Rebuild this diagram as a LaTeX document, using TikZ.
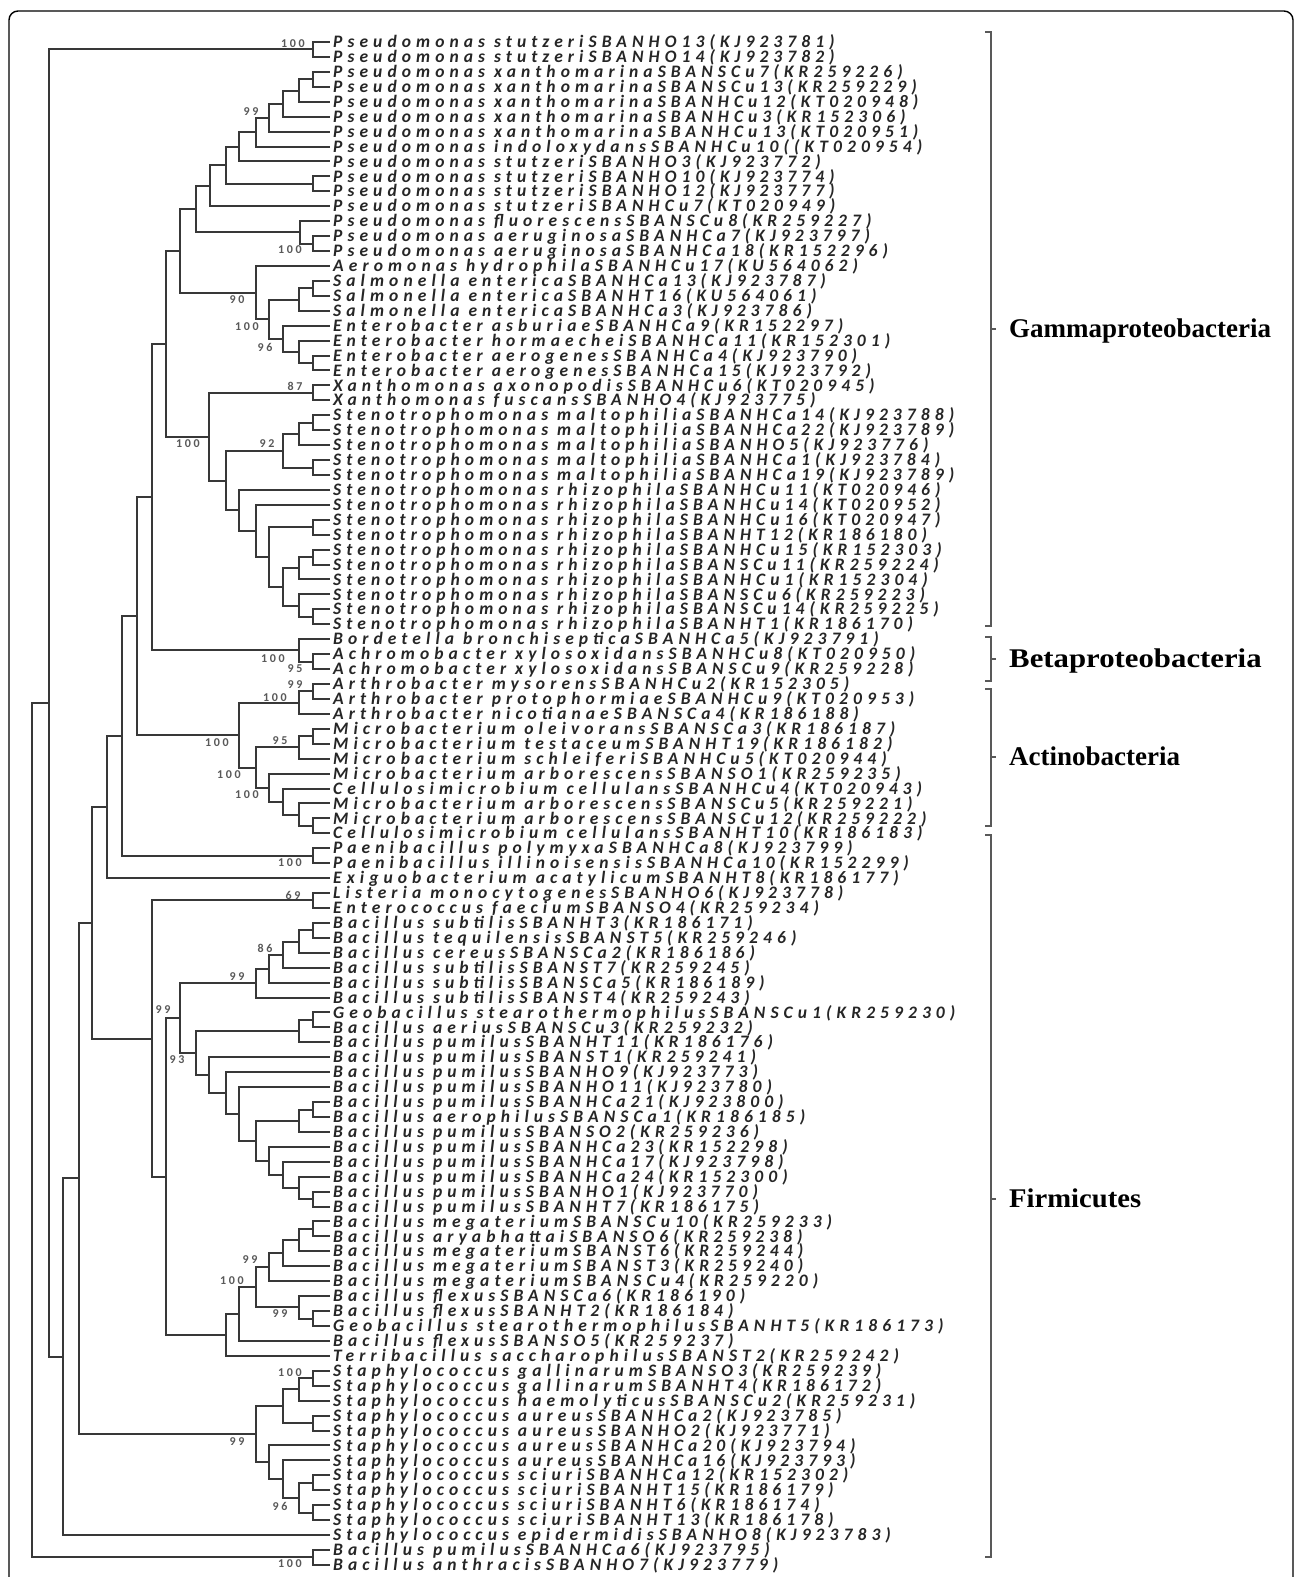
\documentclass[tikz,border=0pt]{standalone}
\usepackage{fontspec}
\usetikzlibrary{calc}
\newfontfamily\leaffont[LetterSpace=29]{Carlito}
\newfontfamily\bsfont[LetterSpace=22]{Carlito}
\newfontfamily\grpfont{Liberation Serif}
\newcommand\cl[4]{%
  \path let \p1=(#3), \p2=(#4) in coordinate (#1) at (#2pt,{0.5*\y1+0.5*\y2});
  \draw[br] (#1) |- (#3);
  \draw[br] (#1) |- (#4);}
\tikzset{
  leaf/.style={anchor=west, inner xsep=3pt, inner ysep=0pt, text height=11.3pt, text depth=0pt,
    font=\leaffont\bfseries\itshape\fontsize{17.5}{17.5}\selectfont, text=black!85},
  br/.style={draw=black!78, line width=2pt},
  bs/.style={inner sep=0pt, font=\bsfont\bfseries\fontsize{12}{12}\selectfont, text=black!65},
  grp/.style={anchor=west, inner sep=0pt, text height=17.9pt, text depth=0pt,
    font=\grpfont\bfseries\fontsize{27}{27}\selectfont},
  brk/.style={draw=black!65, line width=2.4pt},
  frame/.style={draw=black, line width=1.4pt, rounded corners=9pt}
}
\begin{document}
\begin{tikzpicture}[x=1pt,y=-1pt]
\useasboundingbox (0,0) rectangle (1295,1577);
\clip (0,0) rectangle (1295,1577);
\fill[white] (0,0) rectangle (1295,1577);
\draw[frame] (9,11) rectangle (1293,1610);
% leaves
\foreach \t [count=\i] in {
Pseudomonas stutzeriSBANHO13(KJ923781),
Pseudomonas stutzeriSBANHO14(KJ923782),
Pseudomonas xanthomarinaSBANSCu7(KR259226),
Pseudomonas xanthomarinaSBANSCu13(KR259229),
Pseudomonas xanthomarinaSBANHCu12(KT020948),
Pseudomonas xanthomarinaSBANHCu3(KR152306),
Pseudomonas xanthomarinaSBANHCu13(KT020951),
Pseudomonas indoloxydansSBANHCu10((KT020954),
Pseudomonas stutzeriSBANHO3(KJ923772),
Pseudomonas stutzeriSBANHO10(KJ923774),
Pseudomonas stutzeriSBANHO12(KJ923777),
Pseudomonas stutzeriSBANHCu7(KT020949),
Pseudomonas fluorescensSBANSCu8(KR259227),
Pseudomonas aeruginosaSBANHCa7(KJ923797),
Pseudomonas aeruginosaSBANHCa18(KR152296),
Aeromonas hydrophilaSBANHCu17(KU564062),
Salmonella entericaSBANHCa13(KJ923787),
Salmonella entericaSBANHT16(KU564061),
Salmonella entericaSBANHCa3(KJ923786),
Enterobacter asburiaeSBANHCa9(KR152297),
Enterobacter hormaecheiSBANHCa11(KR152301),
Enterobacter aerogenesSBANHCa4(KJ923790),
Enterobacter aerogenesSBANHCa15(KJ923792),
Xanthomonas axonopodisSBANHCu6(KT020945),
Xanthomonas fuscansSBANHO4(KJ923775),
Stenotrophomonas maltophiliaSBANHCa14(KJ923788),
Stenotrophomonas maltophiliaSBANHCa22(KJ923789),
Stenotrophomonas maltophiliaSBANHO5(KJ923776),
Stenotrophomonas maltophiliaSBANHCa1(KJ923784),
Stenotrophomonas maltophiliaSBANHCa19(KJ923789),
Stenotrophomonas rhizophilaSBANHCu11(KT020946),
Stenotrophomonas rhizophilaSBANHCu14(KT020952),
Stenotrophomonas rhizophilaSBANHCu16(KT020947),
Stenotrophomonas rhizophilaSBANHT12(KR186180),
Stenotrophomonas rhizophilaSBANHCu15(KR152303),
Stenotrophomonas rhizophilaSBANSCu11(KR259224),
Stenotrophomonas rhizophilaSBANHCu1(KR152304),
Stenotrophomonas rhizophilaSBANSCu6(KR259223),
Stenotrophomonas rhizophilaSBANSCu14(KR259225),
Stenotrophomonas rhizophilaSBANHT1(KR186170),
Bordetella bronchisepticaSBANHCa5(KJ923791),
Achromobacter xylosoxidansSBANHCu8(KT020950),
Achromobacter xylosoxidansSBANSCu9(KR259228),
Arthrobacter mysorensSBANHCu2(KR152305),
Arthrobacter protophormiaeSBANHCu9(KT020953),
Arthrobacter nicotianaeSBANSCa4(KR186188),
Microbacterium oleivoransSBANSCa3(KR186187),
Microbacterium testaceumSBANHT19(KR186182),
Microbacterium schleiferiSBANHCu5(KT020944),
Microbacterium arborescensSBANSO1(KR259235),
Cellulosimicrobium cellulansSBANHCu4(KT020943),
Microbacterium arborescensSBANSCu5(KR259221),
Microbacterium arborescensSBANSCu12(KR259222),
Cellulosimicrobium cellulansSBANHT10(KR186183),
Paenibacillus polymyxaSBANHCa8(KJ923799),
Paenibacillus illinoisensisSBANHCa10(KR152299),
Exiguobacterium acatylicumSBANHT8(KR186177),
Listeria monocytogenesSBANHO6(KJ923778),
Enterococcus faeciumSBANSO4(KR259234),
Bacillus subtilisSBANHT3(KR186171),
Bacillus tequilensisSBANST5(KR259246),
Bacillus cereusSBANSCa2(KR186186),
Bacillus subtilisSBANST7(KR259245),
Bacillus subtilisSBANSCa5(KR186189),
Bacillus subtilisSBANST4(KR259243),
Geobacillus stearothermophilusSBANSCu1(KR259230),
Bacillus aeriusSBANSCu3(KR259232),
Bacillus pumilusSBANHT11(KR186176),
Bacillus pumilusSBANST1(KR259241),
Bacillus pumilusSBANHO9(KJ923773),
Bacillus pumilusSBANHO11(KJ923780),
Bacillus pumilusSBANHCa21(KJ923800),
Bacillus aerophilusSBANSCa1(KR186185),
Bacillus pumilusSBANSO2(KR259236),
Bacillus pumilusSBANHCa23(KR152298),
Bacillus pumilusSBANHCa17(KJ923798),
Bacillus pumilusSBANHCa24(KR152300),
Bacillus pumilusSBANHO1(KJ923770),
Bacillus pumilusSBANHT7(KR186175),
Bacillus megateriumSBANSCu10(KR259233),
Bacillus aryabhattaiSBANSO6(KR259238),
Bacillus megateriumSBANST6(KR259244),
Bacillus megateriumSBANST3(KR259240),
Bacillus megateriumSBANSCu4(KR259220),
Bacillus flexusSBANSCa6(KR186190),
Bacillus flexusSBANHT2(KR186184),
Geobacillus stearothermophilusSBANHT5(KR186173),
Bacillus flexusSBANSO5(KR259237),
Terribacillus saccharophilusSBANST2(KR259242),
Staphylococcus gallinarumSBANSO3(KR259239),
Staphylococcus gallinarumSBANHT4(KR186172),
Staphylococcus haemolyticusSBANSCu2(KR259231),
Staphylococcus aureusSBANHCa2(KJ923785),
Staphylococcus aureusSBANHO2(KJ923771),
Staphylococcus aureusSBANHCa20(KJ923794),
Staphylococcus aureusSBANHCa16(KJ923793),
Staphylococcus sciuriSBANHCa12(KR152302),
Staphylococcus sciuriSBANHT15(KR186179),
Staphylococcus sciuriSBANHT6(KR186174),
Staphylococcus sciuriSBANHT13(KR186178),
Staphylococcus epidermidisSBANHO8(KJ923783),
Bacillus pumilusSBANHCa6(KJ923795),
Bacillus anthracisSBANHO7(KJ923779)}
{\node[leaf] (L\i) at (330,{42+(\i-1)*14.93}) {\t};}
% Gammaproteobacteria: Pseudomonas
\cl{a1}{313}{L1}{L2}
\cl{a3}{313}{L3}{L4}
\cl{a5}{299}{a3}{L5}
\cl{a6}{283}{a5}{L6}
\cl{a7}{269}{a6}{L7}
\cl{a8}{256}{a7}{L8}
\cl{a9}{239}{a8}{L9}
\cl{a10}{313}{L10}{L11}
\cl{a11}{226}{a9}{a10}
\cl{a12}{210}{a11}{L12}
\cl{a14}{313}{L14}{L15}
\cl{a13}{300}{L13}{a14}
\cl{a15}{196}{a12}{a13}
% Enterobacteriaceae
\cl{b1}{313}{L17}{L18}
\cl{b2}{299}{b1}{L19}
\cl{b3}{313}{L22}{L23}
\cl{b4}{299}{L21}{b3}
\cl{b5}{283}{L20}{b4}
\cl{b6}{269}{b2}{b5}
\cl{b7}{256}{L16}{b6}
\cl{a16}{180}{a15}{b7}
% Xanthomonadaceae
\cl{c1}{313}{L24}{L25}
\cl{c2}{313}{L26}{L27}
\cl{c3}{299}{c2}{L28}
\cl{c4}{313}{L29}{L30}
\cl{c5}{283}{c3}{c4}
\cl{c6}{313}{L33}{L34}
\cl{c7}{313}{L35}{L36}
\cl{c8}{299}{c7}{L37}
\cl{c9}{313}{L39}{L40}
\cl{c10}{299}{L38}{c9}
\cl{c11}{283}{c8}{c10}
\cl{c12}{269}{c6}{c11}
\cl{c13}{256}{L32}{c12}
\cl{c14}{239}{L31}{c13}
\cl{c15}{226}{c5}{c14}
\cl{c16}{209}{c1}{c15}
\cl{a17}{166}{a16}{c16}
% Betaproteobacteria
\cl{d1}{313}{L42}{L43}
\cl{d2}{299}{L41}{d1}
\cl{a18}{152}{a17}{d2}
% Actinobacteria
\cl{e1}{313}{L44}{L45}
\cl{e2}{299}{e1}{L46}
\cl{e3}{313}{L47}{L48}
\cl{e4}{299}{e3}{L49}
\cl{e5}{313}{L53}{L54}
\cl{e6}{299}{L52}{e5}
\cl{e7}{283}{L51}{e6}
\cl{e8}{269}{L50}{e7}
\cl{e9}{256}{e4}{e8}
\cl{e10}{239}{e2}{e9}
\cl{a19}{137}{a18}{e10}
\cl{f1}{313}{L55}{L56}
\cl{a20}{122}{a19}{f1}
\cl{a21}{107}{a20}{L57}
% Firmicutes
\cl{g1}{313}{L58}{L59}
\cl{g2}{313}{L60}{L61}
\cl{g3}{299}{g2}{L62}
\cl{g4}{283}{g3}{L63}
\cl{g5}{269}{g4}{L64}
\cl{g6}{256}{g5}{L65}
\cl{g7}{313}{L66}{L67}
\cl{g8}{299}{g7}{L68}
\cl{g9}{313}{L72}{L73}
\cl{g10}{299}{g9}{L74}
\cl{g11}{313}{L78}{L79}
\cl{g12}{299}{L77}{g11}
\cl{g13}{283}{L76}{g12}
\cl{g14}{269}{L75}{g13}
\cl{g15}{256}{g10}{g14}
\cl{g16}{239}{L71}{g15}
\cl{g17}{226}{L70}{g16}
\cl{g18}{209}{L69}{g17}
\cl{g19}{196}{g8}{g18}
\cl{g20}{180}{g6}{g19}
\cl{h1}{313}{L80}{L81}
\cl{h2}{299}{h1}{L82}
\cl{h3}{283}{h2}{L83}
\cl{h4}{269}{h3}{L84}
\cl{h5}{313}{L86}{L87}
\cl{h6}{299}{L85}{h5}
\cl{h7}{256}{h4}{h6}
\cl{h8}{239}{h7}{L88}
\cl{h9}{226}{h8}{L89}
\cl{g21}{166}{g20}{h9}
\cl{g22}{152}{g1}{g21}
\cl{a22}{92}{a21}{g22}
% Staphylococcus
\cl{s1}{313}{L90}{L91}
\cl{s2}{299}{s1}{L92}
\cl{s3}{313}{L93}{L94}
\cl{s4}{283}{s2}{s3}
\cl{s5}{313}{L97}{L98}
\cl{s6}{313}{L99}{L100}
\cl{s7}{299}{s5}{s6}
\cl{s8}{283}{L96}{s7}
\cl{s9}{269}{L95}{s8}
\cl{s10}{256}{s4}{s9}
\cl{a23}{79}{a22}{s10}
\cl{a24}{63}{a23}{L101}
\cl{a25}{49}{a1}{a24}
\cl{r1}{313}{L102}{L103}
\cl{root}{32}{a25}{r1}
% bootstrap values
\foreach \v/\x/\y [count=\k] in {100/293/44, 99/251/112, 100/290/250, 90/237/300,
  100/247/327, 96/265/347, 87/295/386, 100/188/444, 92/267/444, 100/273/659,
  95/295/669, 99/295/685, 100/275/698, 95/280/741, 100/217/743, 100/229/775,
  100/247/795, 100/290/863, 69/293/895, 86/265/948, 99/237/977, 99/163/1010,
  93/177/1060, 99/250/1260, 100/232/1281, 99/280/1314, 100/290/1373,
  99/237/1442, 96/280/1506, 100/290/1564}
{\node[bs] (bs\k) at (\x,\y) {\v};}
% brackets and groups
\draw[brk] (985,32) -- (991,32) -- (991,626) -- (985,626) (991,329) -- (996,329);
\node[grp] (gamma) at (1009,329) {Gammaproteobacteria};
\draw[brk] (985,637) -- (991,637) -- (991,681) -- (985,681) (991,659) -- (996,659);
\node[grp, xscale=1.14] (beta) at (1009,659) {Betaproteobacteria};
\draw[brk] (985,689) -- (991,689) -- (991,826) -- (985,826) (991,757) -- (996,757);
\node[grp] (actino) at (1009,757) {Actinobacteria};
\draw[brk] (985,835) -- (991,835) -- (991,1557) -- (985,1557) (991,1199) -- (996,1199);
\node[grp, xscale=1.06] (firm) at (1009,1199) {Firmicutes};
\end{tikzpicture}
\end{document}
